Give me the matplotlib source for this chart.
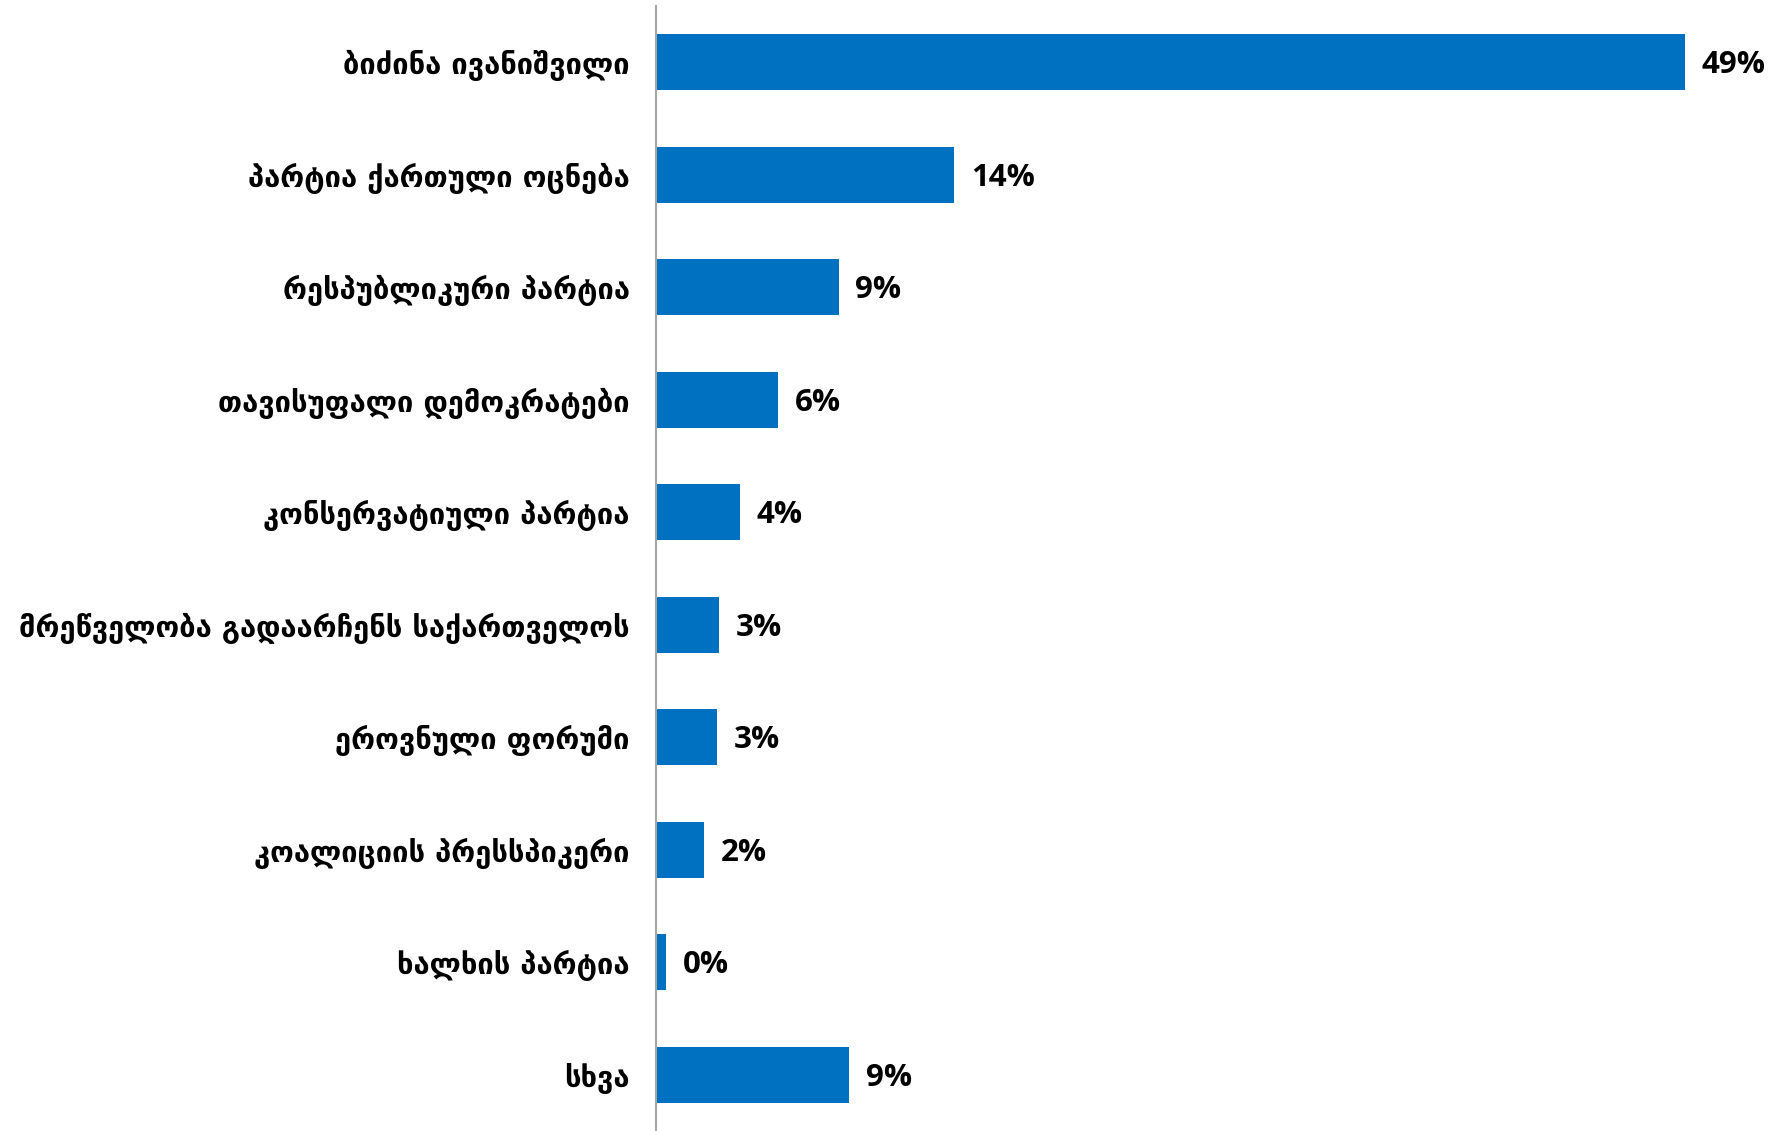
import matplotlib
matplotlib.use("Agg")
import matplotlib.pyplot as plt

parties = [
    "ბიძინა ივანიშვილი",
    "პარტია ქართული ოცნება",
    "რესპუბლიკური პარტია",
    "თავისუფალი დემოკრატები",
    "კონსერვატიული პარტია",
    "მრეწველობა გადაარჩენს საქართველოს",
    "ეროვნული ფორუმი",
    "კოალიციის პრესსპიკერი",
    "ხალხის პარტია",
    "სხვა",
]
shares = [49.0, 14.2, 8.7, 5.8, 4.0, 3.0, 2.9, 2.3, 0.5, 9.2]
share_labels = ["49%", "14%", "9%", "6%", "4%", "3%", "3%", "2%", "0%", "9%"]

fig = plt.figure(figsize=(17.86, 11.31), dpi=100)
ax = fig.add_axes([0.3673, 0.0, 0.623, 0.9947])

ypos = range(len(parties))
ax.barh(ypos, shares, height=0.5, color="#0070C0")

ax.set_ylim(len(parties) - 0.5, -0.5)
ax.set_xlim(0, 53)

ax.set_yticks(list(ypos))
ax.set_yticklabels(parties, fontsize=21, fontweight="bold",
                   family=["DejaVu Sans"])
ax.tick_params(axis="y", length=0, pad=19)
ax.set_xticks([])

for s in ["top", "right", "bottom"]:
    ax.spines[s].set_visible(False)
ax.spines["left"].set_color("#A6A6A6")
ax.spines["left"].set_linewidth(1.5)

for y, v, lab in zip(ypos, shares, share_labels):
    ax.annotate(lab, xy=(v, y), xytext=(12, -2), textcoords="offset points",
                va="center", ha="left", fontsize=22.5, fontweight="bold",
                family="Open Sans", color="#000000", annotation_clip=False)

fig.savefig("out.png", dpi=100)
plt.close(fig)
